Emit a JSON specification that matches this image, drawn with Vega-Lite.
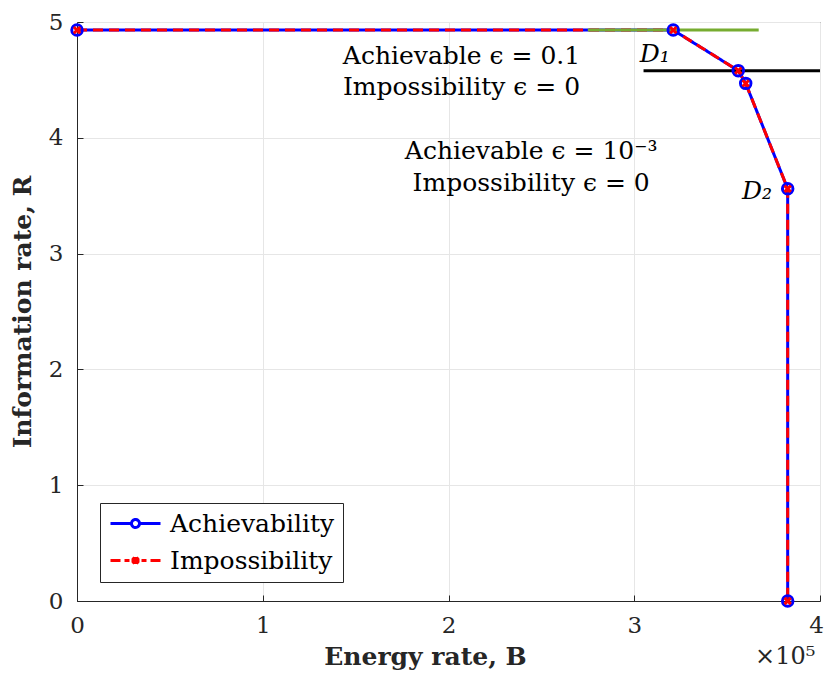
{
  "$schema": "https://vega.github.io/schema/vega-lite/v6.json",
  "width": 743,
  "height": 579,
  "autosize": {"type": "none"},
  "padding": {"left": 77, "top": 22, "right": 6, "bottom": 76},
  "background": "white",
  "config": {
    "view": {"stroke": "#262626", "strokeWidth": 1},
    "font": "DejaVu Serif",
    "axis": {
      "labelFont": "DejaVu Serif",
      "labelFontSize": 23,
      "labelColor": "#262626",
      "labelFlush": false,
      "titleFont": "DejaVu Serif",
      "titleFontSize": 25,
      "titleFontWeight": "bold",
      "titleColor": "#262626",
      "domainColor": "#262626",
      "tickColor": "#262626",
      "tickSize": -6,
      "gridColor": "#e6e6e6",
      "grid": true
    }
  },
  "datasets": {
    "curve": [
      {"series": "Achievability", "order": 1, "B": 0, "R": 4.93},
      {"series": "Achievability", "order": 2, "B": 321000, "R": 4.93},
      {"series": "Achievability", "order": 3, "B": 356000, "R": 4.58},
      {"series": "Achievability", "order": 4, "B": 360000, "R": 4.47},
      {"series": "Achievability", "order": 5, "B": 382600, "R": 3.56},
      {"series": "Achievability", "order": 6, "B": 382600, "R": 0},
      {"series": "Impossibility", "order": 1, "B": 0, "R": 4.93},
      {"series": "Impossibility", "order": 2, "B": 321000, "R": 4.93},
      {"series": "Impossibility", "order": 3, "B": 356000, "R": 4.58},
      {"series": "Impossibility", "order": 4, "B": 360000, "R": 4.47},
      {"series": "Impossibility", "order": 5, "B": 382600, "R": 3.56},
      {"series": "Impossibility", "order": 6, "B": 382600, "R": 0}
    ],
    "segments": [
      {"name": "eps0.1", "B": 275000, "B2": 367000, "R": 4.93},
      {"name": "eps1e-3", "B": 305000, "B2": 400000, "R": 4.58}
    ],
    "labels": [
      {"kind": "center", "B": 207000, "R": 4.71, "text": "Achievable ϵ = 0.1"},
      {"kind": "center", "B": 207000, "R": 4.44, "text": "Impossibility ϵ = 0"},
      {"kind": "center", "B": 244500, "R": 3.89, "text": "Achievable ϵ = 10⁻³"},
      {"kind": "center", "B": 244500, "R": 3.61, "text": "Impossibility ϵ = 0"},
      {"kind": "point", "B": 303000, "R": 4.72, "text": "D₁"},
      {"kind": "point", "B": 358000, "R": 3.54, "text": "D₂"},
      {"kind": "exp", "B": 397500, "R": -0.48, "text": "×10⁵"}
    ]
  },
  "layer": [
    {
      "data": {"name": "curve"},
      "mark": {"type": "line", "strokeWidth": 3},
      "encoding": {
        "x": {
          "field": "B", "type": "quantitative",
          "scale": {"domain": [0, 400000], "nice": false, "zero": false},
          "axis": {
            "title": "Energy rate, B",
            "values": [0, 100000, 200000, 300000, 400000],
            "labelExpr": "format(datum.value / 100000, 'd')",
            "labelOffset": {"condition": {"test": "datum.value === 400000", "value": -4}, "value": 0},
            "labelPadding": 19,
            "titlePadding": 7,
            "titleX": 348,
            "titleAlign": "center"
          }
        },
        "y": {
          "field": "R", "type": "quantitative",
          "scale": {"domain": [0, 5], "nice": false, "zero": false},
          "axis": {
            "title": "Information rate, R",
            "values": [0, 1, 2, 3, 4, 5],
            "format": "d",
            "labelPadding": 20,
            "titlePadding": 13
          }
        },
        "color": {
          "field": "series", "type": "nominal",
          "scale": {"domain": ["Achievability", "Impossibility"], "range": ["#0000ff", "#ff0000"]},
          "legend": {
            "title": null,
            "orient": "none",
            "legendX": 23,
            "legendY": 481,
            "fillColor": "white",
            "strokeColor": "#262626",
            "padding": 8,
            "rowPadding": 11,
            "labelFont": "DejaVu Serif",
            "labelFontSize": 25,
            "labelLimit": 400,
            "labelColor": "black",
            "symbolSize": 400,
            "labelOffset": 37,
            "symbolStrokeWidth": 3,
            "encode": {
              "symbols": {
                "update": {
                  "shape": {"signal": "datum.value === 'Achievability' ? 'M-1,0H1.1M1.9,0H4M1.1,0A0.4,0.4 0 1,0 1.9,0A0.4,0.4 0 1,0 1.1,0' : 'M-1,0H0M0.4,0H0.9M2.1,0H2.6M3,0H4M1.2,-0.3L1.8,0.3M1.2,0.3L1.8,-0.3M1.5,-0.35V0.35M1.1,0H1.9'"},
                  "fill": {"value": "transparent"},
                  "strokeWidth": {"value": 3}
                }
              }
            }
          }
        },
        "strokeDash": {
          "field": "series", "type": "nominal",
          "scale": {"domain": ["Achievability", "Impossibility"], "range": [[1, 0], [10, 6]]},
          "legend": null
        },
        "order": {"field": "order", "type": "quantitative"}
      }
    },
    {
      "data": {"name": "segments"},
      "transform": [{"filter": "datum.name === 'eps0.1'"}],
      "mark": {"type": "rule", "color": "#77ac30", "strokeWidth": 3},
      "encoding": {
        "x": {"field": "B", "type": "quantitative"},
        "x2": {"field": "B2"},
        "y": {"field": "R", "type": "quantitative"}
      }
    },
    {
      "data": {"name": "segments"},
      "transform": [{"filter": "datum.name === 'eps1e-3'"}],
      "mark": {"type": "rule", "color": "#000000", "strokeWidth": 3},
      "encoding": {
        "x": {"field": "B", "type": "quantitative"},
        "x2": {"field": "B2"},
        "y": {"field": "R", "type": "quantitative"}
      }
    },
    {
      "data": {"name": "curve"},
      "transform": [{"filter": "datum.series === 'Achievability'"}],
      "mark": {"type": "point", "shape": "circle", "filled": false, "color": "#0000ff", "size": 110, "strokeWidth": 3, "opacity": 1},
      "encoding": {
        "x": {"field": "B", "type": "quantitative"},
        "y": {"field": "R", "type": "quantitative"}
      }
    },
    {
      "data": {"name": "curve"},
      "transform": [{"filter": "datum.series === 'Impossibility'"}],
      "mark": {"type": "point", "shape": "M-1,-1L1,1M-1,1L1,-1", "filled": false, "color": "#ff0000", "size": 40, "strokeWidth": 3, "opacity": 1},
      "encoding": {
        "x": {"field": "B", "type": "quantitative"},
        "y": {"field": "R", "type": "quantitative"}
      }
    },
    {
      "data": {"name": "labels"},
      "transform": [{"filter": "datum.kind === 'center'"}],
      "mark": {"type": "text", "align": "center", "baseline": "middle", "font": "DejaVu Serif", "fontSize": 25, "color": "#000000"},
      "encoding": {
        "x": {"field": "B", "type": "quantitative"},
        "y": {"field": "R", "type": "quantitative"},
        "text": {"field": "text"}
      }
    },
    {
      "data": {"name": "labels"},
      "transform": [{"filter": "datum.kind === 'point'"}],
      "mark": {"type": "text", "align": "left", "baseline": "middle", "font": "DejaVu Serif", "fontSize": 25, "fontStyle": "italic", "color": "#000000"},
      "encoding": {
        "x": {"field": "B", "type": "quantitative"},
        "y": {"field": "R", "type": "quantitative"},
        "text": {"field": "text"}
      }
    },
    {
      "data": {"name": "labels"},
      "transform": [{"filter": "datum.kind === 'exp'"}],
      "mark": {"type": "text", "align": "right", "baseline": "middle", "font": "DejaVu Serif", "fontSize": 24, "color": "#262626", "clip": false},
      "encoding": {
        "x": {"field": "B", "type": "quantitative"},
        "y": {"field": "R", "type": "quantitative"},
        "text": {"field": "text"}
      }
    }
  ]
}
